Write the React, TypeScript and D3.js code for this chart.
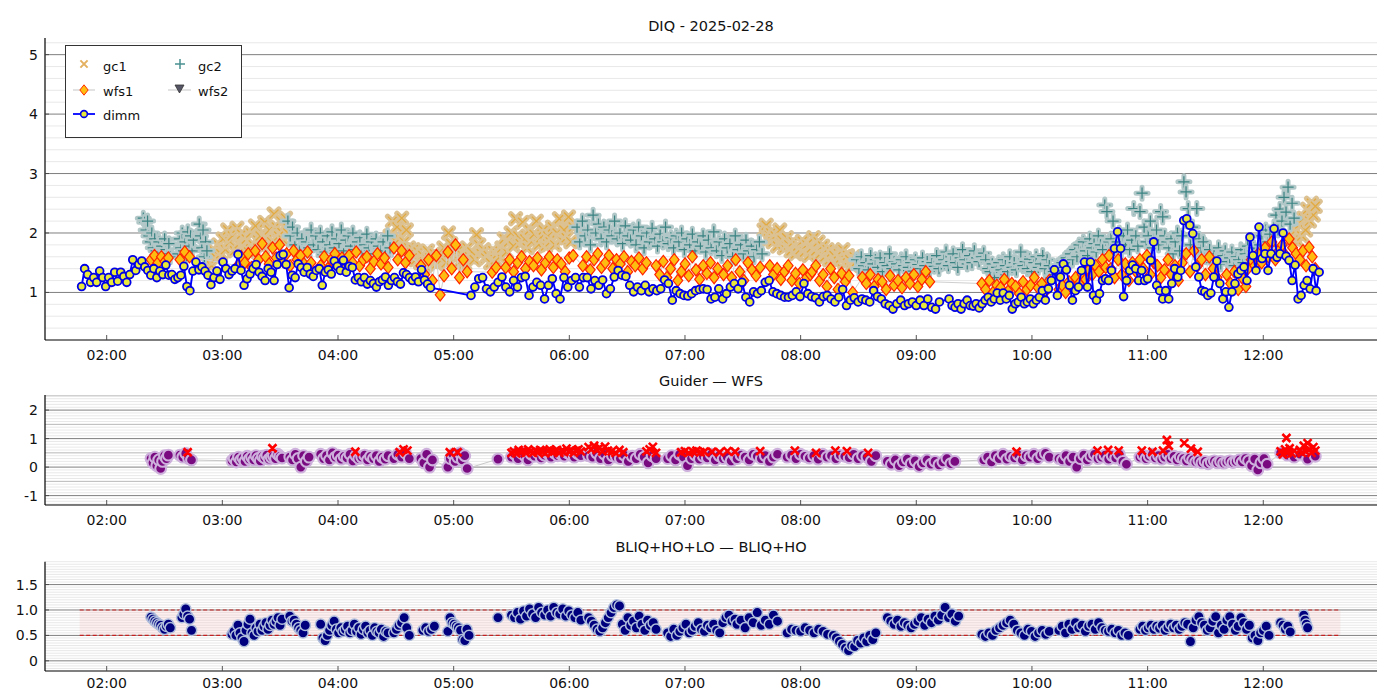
import React from "react";
import * as d3 from "d3";

const FONT = "DejaVu Sans, Liberation Sans, sans-serif";

// ---------- text ----------
const titleTop = "DIQ - 2025-02-28";
const titleMid = "Guider — WFS";
const titleBot = "BLIQ+HO+LO — BLIQ+HO";
const legendLabels = ["gc1", "gc2", "wfs1", "wfs2", "dimm"];

// ---------- axes ----------
const xTickLabels = ["02:00", "03:00", "04:00", "05:00", "06:00", "07:00", "08:00", "09:00", "10:00", "11:00", "12:00"];
const xDomain = ["01:28", "12:59"];
const topTicks = [1, 2, 3, 4, 5];
const topLimits = [0.2, 5.28];
const midTicks = [-1, 0, 1, 2];
const midLimits = [-1.33, 2.53];
const botTicks = [0, 0.5, 1.0, 1.5];
const botTickLabels = ["0", "0.5", "1.0", "1.5"];
const botLimits = [-0.2, 1.95];
const bandRange = [0.5, 1.0];
const bandSpan = ["01:46", "12:40"];

type Seg = [string, string, number[]];

// ---------- top panel: DIQ ----------
const dimmSegs: Seg[] = [
  ["01:47", "04:48", [1.10,1.40,1.30,1.17,1.25,1.17,1.36,1.25,1.10,1.25,1.17,1.34,1.19,1.34,1.27,1.17,1.30,1.55,1.37,1.47,1.53,1.43,1.37,1.29,1.40,1.25,1.36,1.30,1.46,1.29,1.30,1.22,1.25,1.29,1.44,1.10,1.03,1.36,1.51,1.38,1.43,1.36,1.29,1.13,1.25,1.36,1.22,1.51,1.40,1.30,1.36,1.40,1.64,1.37,1.12,1.23,1.31,1.40,1.47,1.34,1.27,1.20,1.40,1.34,1.20,1.47,1.62,1.64,1.47,1.08,1.29,1.25,1.48,1.42,1.34,1.42,1.31,1.27,1.37,1.40,1.12,1.34,1.38,1.31,1.53,1.44,1.37,1.54,1.34,1.44,1.42,1.21,1.25,1.18,1.25,1.14,1.20,1.15,1.09,1.18,1.21,1.26,1.12,1.20,1.25,1.18,1.14,1.33,1.30,1.25,1.20,1.26,1.18,1.38,1.21,1.14,1.08]],
  ["05:09", "09:12", [0.95,1.09,1.23,1.25,1.06,1.01,1.09,1.17,1.26,1.09,1.01,1.20,1.09,1.25,1.27,0.95,1.09,1.17,1.12,0.89,1.12,1.23,0.98,0.89,1.25,1.09,1.20,1.25,1.09,1.25,1.25,1.06,1.20,1.12,1.21,0.98,1.06,1.26,1.37,1.29,1.27,1.12,1.01,1.09,1.03,1.12,1.01,1.06,1.03,1.06,1.21,1.15,0.87,1.03,0.98,0.95,0.94,0.98,1.03,1.05,1.06,1.05,0.89,0.92,1.06,0.89,0.98,1.09,1.15,1.06,1.17,0.92,0.84,1.01,0.98,1.03,1.17,1.20,1.01,0.98,0.95,0.92,0.92,0.95,1.01,0.93,1.15,0.98,0.93,0.91,0.84,0.93,0.95,0.89,0.84,0.92,1.05,0.78,0.87,0.91,0.84,0.89,0.87,0.84,1.03,0.93,0.89,0.81,0.78,0.72,0.81,0.87,0.78,0.81,0.84,0.78,0.87,0.78,0.89,0.75,0.72,0.84]],
  ["09:17", "12:29", [0.89,0.78,0.75,0.81,0.72,0.81,0.87,0.78,0.77,0.81,0.74,0.81,0.87,0.92,0.84,0.89,0.99,0.87,0.99,0.89,0.95,0.72,0.81,0.84,0.92,0.81,0.84,0.89,0.81,0.87,0.92,1.03,0.87,1.06,1.20,1.38,0.95,1.26,1.48,1.38,1.12,0.87,1.03,1.09,1.37,1.51,1.09,1.51,0.95,0.87,0.98,1.20,1.23,1.20,1.37,1.74,2.02,1.74,0.93,1.20,1.37,1.46,1.40,1.20,1.37,1.20,1.23,1.54,1.85,1.12,1.03,0.89,1.03,0.89,1.15,1.40,1.26,1.37,2.21,2.24,2.13,1.99,1.43,1.26,1.03,1.01,0.95,0.99,1.26,1.53,1.15,0.89,1.01,0.75,1.01,1.15,1.31,1.37,1.43,1.20,1.93,1.62,1.37,2.10,1.57,1.65,1.37,1.65,2.07,1.59,1.65,2.00,1.61,1.54,1.20,1.46,0.89,0.95,1.12,1.20,1.06,1.40,1.03,1.34]],
];

const gc1Segs: Seg[] = [
  ["02:52", "03:34", [1.5,1.62,1.45,1.7,1.58,1.8,1.65,1.9,1.72,2.05,1.85,1.95,1.7,2.08,1.82,1.98,1.75,1.9,1.68,2.0,1.8,2.12,1.88,1.95,1.75,2.18,1.9,2.05,1.85,2.32,2.1,1.95,2.2,1.88,2.25,2.0]],
  ["04:27", "05:24", [1.95,2.2,1.8,2.1,1.9,2.25,1.85,2.05,1.75,1.6,1.72,1.55,1.68,1.5,1.62,1.45,1.7,1.58,1.52,1.65,1.48,1.6,1.55,1.75,1.5,2.0,1.82,1.65,1.58,1.7,1.52,1.62,1.48,1.75,1.6,1.68,1.55,1.97,1.8,1.65,1.72,1.58,1.62,1.5,1.7,1.55,1.65,1.6]],
  ["05:25", "06:02", [1.75,1.9,1.68,1.85,2.0,1.78,2.24,1.95,1.82,2.18,1.9,1.75,2.05,1.85,1.98,2.2,1.8,1.92,2.05,1.78,1.95,1.85,2.1,1.8,2.0,2.24,1.88,2.05,1.92,2.27,1.85,2.1]],
  ["07:41", "08:29", [2.05,2.13,1.9,2.0,1.85,1.95,1.78,2.05,1.88,1.75,1.92,1.8,1.7,1.85,1.65,1.78,1.72,1.86,1.68,1.8,1.62,1.75,1.92,1.7,1.85,1.65,1.78,1.6,1.72,1.55,1.68,1.62,1.5,1.65,1.58,1.72,1.48,1.62,1.55,1.45,1.6,1.52]],
  ["12:16", "12:27", [1.9,2.05,1.85,2.15,1.95,2.25,2.05,2.4,2.2,2.5,2.3,2.45]],
];

const gc2Segs: Seg[] = [
  ["02:19", "02:33", [2.25,2.18,2.05,2.2,1.95,1.85,2.0,1.75,1.9,1.7,1.62,1.85,1.68,1.78,1.58,1.9,1.72,1.65,1.82,1.6]],
  ["02:37", "02:45", [1.65,1.9,1.75,2.0,1.7,1.85,1.62,2.02,1.78,1.95,1.7,1.88]],
  ["02:48", "02:52", [2.15,1.95,1.75,2.05,1.6,1.85,1.7]],
  ["03:34", "04:27", [2.2,1.95,2.1,1.8,2.0,1.7,1.9,1.62,1.85,1.75,2.05,1.8,1.95,1.72,2.0,1.85,1.68,1.95,1.8,2.02,1.75,1.9,1.82,2.05,1.7,1.88,1.95,1.78,2.0,1.72,1.85,1.92,1.68,1.8,1.98,1.75,1.85,1.65,1.9,1.78,1.7,1.85,1.62,1.95,1.75]],
  ["06:04", "07:40", [2.1,1.85,2.2,1.95,2.05,1.8,2.3,2.0,2.15,1.9,2.1,1.85,2.05,1.95,2.2,1.9,2.0,1.82,2.12,1.95,1.88,2.05,1.8,2.1,1.95,1.75,2.0,1.85,2.08,1.9,1.78,1.98,1.85,2.1,1.82,1.92,1.75,1.95,1.85,2.0,1.72,1.9,1.8,1.98,1.7,1.85,1.78,1.95,1.68,1.88,1.75,2.02,1.7,1.85,1.62,1.9,1.75,1.82,1.6,1.95,1.72,1.8,1.65,1.88,1.7,1.78,1.6,1.72,1.85,1.65]],
  ["08:29", "09:35", [1.55,1.4,1.6,1.45,1.5,1.38,1.62,1.48,1.55,1.42,1.58,1.35,1.5,1.45,1.65,1.4,1.52,1.48,1.38,1.55,1.45,1.6,1.42,1.5,1.36,1.55,1.47,1.4,1.58,1.45,1.52,1.38,1.5,1.44,1.62,1.4,1.48,1.55,1.68,1.45,1.52,1.65,1.5,1.42,1.58,1.72,1.55,1.48,1.62,1.5,1.7,1.58,1.52,1.6,1.66]],
  ["09:36", "10:09", [1.55,1.4,1.35,1.48,1.25,1.42,1.5,1.38,1.55,1.45,1.35,1.6,1.42,1.5,1.38,1.48,1.68,1.45,1.52,1.4,1.56,1.35,1.5,1.6,1.42,1.48,1.62,1.4,1.55,1.45]],
  ["10:10", "10:40", [1.25,1.35,1.3,1.45,1.38,1.5,1.42,1.58,1.5,1.65,1.55,1.72,1.6,1.8,1.68,1.85,1.7,1.62,1.9,1.75,1.82,1.68,1.95,1.8,1.72,2.47,2.36,1.85]],
  ["10:41", "11:10", [1.9,2.2,1.75,1.85,2.0,1.68,1.95,1.8,2.05,1.72,1.88,2.41,1.95,1.78,2.36,2.67,2.1,1.85,1.95,2.2,1.75,1.9,2.05,1.8,2.36,2.27,1.95,1.85]],
  ["11:11", "11:30", [1.75,1.9,1.65,1.85,2.0,1.7,1.95,2.86,2.69,2.41,1.8,2.1,1.68,2.41,1.9,1.75,1.85,1.62]],
  ["11:31", "11:53", [1.6,1.72,1.5,1.65,1.55,1.75,1.48,1.62,1.7,1.52,1.58,1.68,1.45,1.6,1.55,1.72,1.5,1.65,1.78,1.6]],
  ["11:54", "12:16", [1.6,1.75,1.5,1.68,1.8,1.95,1.72,2.05,1.85,1.98,1.78,2.1,2.3,2.05,2.4,2.2,2.6,2.35,2.77,2.15,2.5,2.25]],
];

const wfs1Segs: Seg[] = [
  ["02:23", "02:32", [1.55,1.62,1.5,1.6,1.52,1.58]],
  ["02:38", "02:43", [1.55,1.68,1.6]],
  ["03:08", "03:46", [1.45,1.6,1.5,1.65,1.42,1.7,1.55,1.82,1.6,1.48,1.75,1.58,1.8,1.52,1.65,1.45,1.7,1.55,1.62,1.48,1.68,1.5]],
  ["03:51", "04:26", [1.45,1.6,1.4,1.55,1.65,1.48,1.58,1.42,1.62,1.5,1.68,1.45,1.55,1.6,1.4,1.52,1.65,1.48,1.58,1.42]],
  ["04:29", "04:37", [1.75,1.55,1.7,1.5,1.62]],
  ["04:43", "05:07", [1.45,1.3,1.55,1.2,1.62,0.96,1.28,1.68,1.4,1.8,1.25,1.55,1.35]],
  ["05:20", "05:22", [1.34,1.42]],
  ["05:27", "06:02", [1.42,1.55,1.35,1.5,1.6,1.4,1.52,1.45,1.58,1.38,1.5,1.6,1.42,1.55,1.48,1.35,1.58,1.62]],
  ["06:07", "06:40", [1.45,1.6,1.38,1.55,1.65,1.42,1.5,1.62,1.4,1.55,1.48,1.6,1.35,1.52,1.45,1.58,1.4,1.5]],
  ["06:45", "07:17", [1.45,1.3,1.52,1.25,1.4,1.55,1.2,1.35,1.48,1.28,1.6,1.38,1.22,1.45,1.32,1.5,1.25,1.4]],
  ["07:20", "07:39", [1.3,1.45,1.25,1.55,1.35,1.2,1.5,1.38,1.28,1.42]],
  ["07:44", "08:05", [1.45,1.3,1.4,1.22,1.35,1.45,1.2,1.32,1.15,1.38,1.25,1.3]],
  ["08:06", "08:27", [1.35,1.45,1.2,1.3,1.1,1.4,1.25,1.05,1.32,1.18,1.28,1.0]],
  ["08:32", "09:07", [1.25,1.15,1.3,1.1,1.22,1.18,1.05,1.28,1.12,1.2,1.08,1.25,1.15,1.3,1.1,1.22,1.35,1.18]],
  ["09:34", "10:09", [1.15,1.05,1.2,1.0,1.12,1.08,1.22,1.02,1.15,1.1,0.98,1.18,1.05,1.12,1.25,1.08,1.15,1.02,1.2]],
  ["10:14", "10:40", [1.05,1.12,1.0,1.18,1.1,1.25,1.15,1.3,1.22,1.38,1.3,1.45,1.35,1.55,1.42,1.62]],
  ["10:41", "10:54", [1.4,1.25,1.55,1.3,1.48,1.2,1.5,1.35]],
  ["10:56", "11:16", [1.55,1.4,1.62,1.3,1.5,1.45,1.25,1.38,1.55,1.3,1.45,1.2]],
  ["11:18", "11:36", [1.5,1.65,1.35,1.7,1.45,1.55,1.3,1.6,1.4,1.25]],
  ["11:41", "11:51", [1.3,1.15,1.35,1.05,1.25,1.1]],
  ["11:52", "12:17", [1.4,1.55,1.45,1.65,1.5,1.75,1.6,1.85,1.55,1.7,1.8,1.62,1.9,1.75,1.65]],
  ["12:19", "12:27", [1.55,1.7,1.45,1.76,1.6,1.4]],
];

// ---------- middle panel: Guider — WFS ----------
const guiderWfsPurple: Seg[] = [
  ["02:23", "02:32", [0.3,0.15,0.35,0.05,0.25,-0.05,0.2,0.4,0.3,0.42]],
  ["02:38", "02:44", [0.42,0.35,0.48,0.3,0.25]],
  ["03:05", "03:31", [0.22,0.3,0.18,0.35,0.25,0.32,0.2,0.38,0.28,0.35,0.25,0.4,0.3,0.22,0.38,0.32,0.42,0.28,0.35,0.4,0.3,0.45,0.38,0.32]],
  ["03:35", "03:45", [0.35,0.25,0.45,0.3,0.0,0.4,0.2,0.35]],
  ["03:51", "04:26", [0.45,0.3,0.4,0.25,0.5,0.35,0.42,0.28,0.38,0.32,0.45,0.22,0.4,0.3,0.35,0.42,0.25,0.38,0.3,0.4,0.2,0.35,0.28,0.4]],
  ["04:29", "04:37", [0.3,0.45,0.35,0.5,0.3]],
  ["04:43", "04:49", [0.3,0.15,0.45,0.0,0.25]],
  ["04:57", "05:07", [0.0,0.3,0.45,0.2,0.35,0.5,0.25,0.4,-0.05]],
  ["05:23", "05:23", [0.28]],
  ["05:30", "06:06", [0.35,0.45,0.3,0.5,0.4,0.25,0.45,0.38,0.5,0.32,0.42,0.48,0.35,0.5,0.4,0.45,0.38,0.5,0.42,0.35,0.48,0.4]],
  ["06:10", "06:45", [0.4,0.35,0.5,0.3,0.45,0.25,0.4,0.35,0.3,0.42,0.2,0.38,0.3,0.45,0.35,0.15,0.4,0.3]],
  ["06:51", "07:26", [0.3,0.4,0.25,0.45,0.35,0.05,0.3,0.42,0.28,0.38,0.32,0.45,0.25,0.4,0.3,0.35,0.22,0.4]],
  ["07:27", "07:48", [0.3,0.42,0.35,0.25,0.45,0.38,0.3,0.4,0.2,0.35,0.45]],
  ["07:53", "08:39", [0.35,0.42,0.3,0.45,0.38,0.32,0.4,0.28,0.45,0.35,0.4,0.3,0.42,0.38,0.33,0.45,0.3,0.4,0.35,0.2,0.4]],
  ["08:45", "09:20", [0.2,0.1,0.25,0.05,0.18,0.28,0.12,0.22,0.02,0.15,0.25,0.1,0.2,0.08,0.18,0.3,0.12,0.2]],
  ["09:35", "10:09", [0.25,0.35,0.18,0.4,0.3,0.45,0.28,0.38,0.32,0.42,0.25,0.4,0.35,0.45,0.3,0.42,0.48,0.35]],
  ["10:14", "10:49", [0.3,0.25,0.4,0.2,0.35,0.0,0.3,0.42,0.25,0.38,0.45,0.3,0.35,0.42,0.28,0.4,0.32,0.45,0.2,0.1]],
  ["10:56", "12:02", [0.35,0.42,0.3,0.38,0.45,0.32,0.4,0.28,0.35,0.45,0.3,0.38,0.25,0.35,0.3,0.22,0.32,0.25,0.18,0.22,0.15,0.2,0.12,0.18,0.22,0.15,0.2,0.14,0.18,0.22,0.16,0.2,0.25,0.18,0.3,0.22,0.05,0.28,-0.1,0.15,0.3,0.1]],
  ["12:09", "12:16", [0.5,0.42,0.35]],
  ["12:19", "12:27", [0.45,0.28,0.38]],
];

const guiderWfsRed: Seg[] = [
  ["02:42", "02:42", [0.52]],
  ["03:26", "03:26", [0.66]],
  ["04:09", "04:09", [0.54]],
  ["04:32", "04:36", [0.52,0.62,0.58]],
  ["04:58", "05:02", [0.52,0.52]],
  ["05:30", "06:06", [0.5,0.55,0.48,0.6,0.52,0.58,0.5,0.62,0.55,0.5,0.58,0.52,0.6,0.55,0.48,0.57,0.62,0.52,0.55,0.6,0.5,0.58,0.53,0.65,0.55,0.6,0.5,0.58,0.62,0.55]],
  ["06:10", "06:20", [0.7,0.62,0.75,0.6,0.68,0.55,0.72,0.58]],
  ["06:22", "06:28", [0.55,0.5,0.6,0.52]],
  ["06:40", "06:45", [0.55,0.62,0.71,0.5]],
  ["06:58", "07:10", [0.52,0.56,0.5,0.55,0.58,0.52,0.54]],
  ["07:14", "07:26", [0.54,0.52,0.56,0.54]],
  ["07:39", "07:39", [0.56]],
  ["07:57", "07:57", [0.58]],
  ["08:08", "08:08", [0.5]],
  ["08:18", "08:24", [0.58,0.56]],
  ["08:35", "08:35", [0.5]],
  ["09:52", "09:52", [0.54]],
  ["10:34", "10:45", [0.58,0.6,0.58]],
  ["10:57", "11:08", [0.58,0.54,0.58]],
  ["11:10", "11:11", [0.95,0.75]],
  ["11:19", "11:26", [0.84,0.65,0.54]],
  ["12:09", "12:16", [0.55,0.45,0.62,0.5,0.66,0.48,0.58]],
  ["12:12", "12:12", [1.02]],
  ["12:19", "12:27", [0.6,0.5,0.75,0.55,0.84,0.62,0.5,0.7,0.58]],
];

// ---------- bottom panel: BLIQ ----------
const bliqSegs: Seg[] = [
  ["02:23", "02:33", [0.86,0.82,0.78,0.75,0.72,0.7,0.65,0.62,0.68,0.72,0.65]],
  ["02:39", "02:44", [0.85,0.92,1.02,0.88,0.82,0.6]],
  ["03:05", "03:31", [0.52,0.58,0.5,0.7,0.55,0.45,0.38,0.6,0.72,0.82,0.55,0.5,0.65,0.58,0.72,0.6,0.68,0.75,0.62,0.7,0.8,0.72,0.78,0.85,0.7,0.82]],
  ["03:35", "03:43", [0.88,0.78,0.8,0.72,0.65,0.6,0.55,0.7]],
  ["03:51", "04:26", [0.72,0.45,0.4,0.5,0.6,0.7,0.78,0.62,0.55,0.65,0.58,0.62,0.68,0.55,0.6,0.72,0.58,0.65,0.52,0.62,0.68,0.55,0.6,0.5,0.65,0.58,0.55,0.62,0.48,0.58,0.55]],
  ["04:29", "04:37", [0.55,0.62,0.7,0.75,0.85,0.65,0.5]],
  ["04:44", "04:50", [0.6,0.65,0.58,0.62,0.68]],
  ["04:57", "05:08", [0.58,0.85,0.75,0.72,0.68,0.65,0.6,0.42,0.4,0.62,0.5]],
  ["05:23", "05:23", [0.85]],
  ["05:30", "06:06", [0.9,0.85,0.95,0.82,0.98,0.88,1.02,0.92,0.85,1.05,0.95,0.9,1.0,0.88,1.05,0.95,0.92,1.02,0.88,0.98,0.9,0.85,0.95,0.8]],
  ["06:10", "06:45", [0.85,0.78,0.7,0.62,0.58,0.65,0.75,0.85,0.95,1.05,1.1,1.08,0.72,0.6,0.85,0.7,0.78,0.65,0.88,0.72,0.6,0.8,0.7,0.75,0.62]],
  ["06:51", "07:26", [0.55,0.48,0.62,0.5,0.58,0.65,0.72,0.55,0.6,0.68,0.75,0.62,0.58,0.7,0.65,0.72,0.6,0.55,0.75,0.85,0.9,0.78,0.82]],
  ["07:27", "07:48", [0.72,0.8,0.65,0.85,0.75,0.95,0.7,0.8,0.72,0.9,0.78]],
  ["07:53", "08:14", [0.55,0.62,0.6,0.58,0.65,0.6,0.55,0.62,0.58,0.52]],
  ["08:17", "08:39", [0.5,0.45,0.38,0.32,0.25,0.2,0.3,0.28,0.4,0.35,0.45,0.38,0.5,0.42,0.55]],
  ["08:45", "09:22", [0.85,0.78,0.72,0.8,0.68,0.75,0.7,0.65,0.72,0.78,0.85,0.7,0.82,0.75,0.88,0.8,0.9,1.05,0.85,0.92,0.78,0.88]],
  ["09:34", "10:09", [0.52,0.48,0.55,0.5,0.6,0.65,0.7,0.75,0.8,0.72,0.6,0.55,0.5,0.62,0.58,0.48,0.55,0.6,0.52,0.58]],
  ["10:14", "10:50", [0.6,0.68,0.55,0.72,0.62,0.75,0.65,0.7,0.58,0.68,0.72,0.62,0.75,0.65,0.6,0.58,0.62,0.55,0.6,0.5,0.55,0.5]],
  ["10:56", "12:03", [0.62,0.68,0.6,0.65,0.7,0.62,0.68,0.64,0.7,0.6,0.66,0.72,0.65,0.7,0.62,0.68,0.75,0.72,0.38,0.65,0.8,0.87,0.75,0.7,0.6,0.65,0.78,0.87,0.55,0.7,0.62,0.8,0.87,0.72,0.6,0.68,0.85,0.75,0.62,0.7,0.45,0.5,0.4,0.55,0.6,0.68,0.5]],
  ["12:09", "12:14", [0.75,0.7,0.62,0.68,0.57]],
  ["12:21", "12:23", [0.9,0.8,0.72,0.65]],
];

// ---------- helpers ----------
const tm = (s: string) => {
  const [h, m] = s.split(":").map(Number);
  return h * 60 + m;
};
type Pt = { t: number; v: number };
const expand = (segs: Seg[]): Pt[] =>
  segs
    .flatMap(([a, b, vals]) => {
      const t0 = tm(a), t1 = tm(b), n = vals.length;
      return vals.map((v, i) => ({ t: n > 1 ? t0 + ((t1 - t0) * i) / (n - 1) : t0, v }));
    })
    .sort((p, q) => p.t - q.t);

const L = 45, R = 1377;
const TOP = { y0: 38, y1: 340, title: 30.5, lab: 20 };
const MID = { y0: 395, y1: 505, title: 386, lab: 20 };
const BOT = { y0: 561.7, y1: 671, title: 552, lab: 17 };

const xPath = (cx: number, cy: number, s: number) =>
  `M${cx - s},${cy - s}L${cx + s},${cy + s}M${cx - s},${cy + s}L${cx + s},${cy - s}`;
const plusPath = (cx: number, cy: number, s: number) =>
  `M${cx - s},${cy}L${cx + s},${cy}M${cx},${cy - s}L${cx},${cy + s}`;
const diamondPath = (cx: number, cy: number, s: number) =>
  `M${cx},${cy - s}L${cx + s * 0.8},${cy}L${cx},${cy + s}L${cx - s * 0.8},${cy}Z`;

const isMult = (v: number, m: number) => Math.abs(v / m - Math.round(v / m)) < 1e-6;

function Grid({ y, majors, halves, minors }: { y: d3.ScaleLinear<number, number>; majors: number[]; halves: number[]; minors: number[] }) {
  return (
    <g>
      {minors.map((v, i) => (
        <line key={"mi" + i} x1={L} x2={R} y1={y(v)} y2={y(v)} stroke="#e2e2e2" strokeWidth={0.8} />
      ))}
      {halves.map((v, i) => (
        <line key={"ha" + i} x1={L} x2={R} y1={y(v)} y2={y(v)} stroke="#b0b0b0" strokeWidth={0.9} />
      ))}
      {majors.map((v, i) => (
        <line key={"ma" + i} x1={L} x2={R} y1={y(v)} y2={y(v)} stroke="#707070" strokeWidth={0.9} />
      ))}
    </g>
  );
}

function Axes({ x, y, panel, yTicks, yLabels, title }: { x: d3.ScaleLinear<number, number>; y: d3.ScaleLinear<number, number>; panel: { y0: number; y1: number; title: number; lab: number }; yTicks: number[]; yLabels: string[]; title: string }) {
  const { y0, y1 } = panel;
  return (
    <g>
      <line x1={L} x2={L} y1={y0} y2={y1} stroke="#000" strokeWidth={1.2} />
      <line x1={L} x2={R} y1={y1} y2={y1} stroke="#000" strokeWidth={1.2} />
      {xTickLabels.map((lab) => {
        const px = x(tm(lab));
        return (
          <g key={lab}>
            <line x1={px} x2={px} y1={y1} y2={y1 - 5} stroke="#444" strokeWidth={0.9} />
            <text x={px} y={y1 + panel.lab} fontSize={14} textAnchor="middle" fill="#111">{lab}</text>
          </g>
        );
      })}
      {yTicks.map((v, i) => (
        <g key={"yt" + i}>
          <line x1={L} x2={L + 4} y1={y(v)} y2={y(v)} stroke="#444" strokeWidth={0.9} />
          <text x={38} y={y(v) + 5} fontSize={14} textAnchor="end" fill="#111">{yLabels[i]}</text>
        </g>
      ))}
      <text x={(L + R) / 2} y={panel.title} fontSize={14.5} textAnchor="middle" fill="#111">{title}</text>
    </g>
  );
}

export default function App() {
  const x = d3.scaleLinear().domain(xDomain.map(tm)).range([L, R]);
  const yT = d3.scaleLinear().domain(topLimits).range([TOP.y1, TOP.y0]);
  const yM = d3.scaleLinear().domain(midLimits).range([MID.y1, MID.y0]);
  const yB = d3.scaleLinear().domain(botLimits).range([BOT.y1, BOT.y0]);

  const dimm = expand(dimmSegs);
  const gc1 = expand(gc1Segs);
  const gc2 = expand(gc2Segs);
  const wfs1 = expand(wfs1Segs);
  const purple = expand(guiderWfsPurple);
  const red = expand(guiderWfsRed);
  const bliq = expand(bliqSegs);

  const line = d3.line<Pt>().x((d) => x(d.t)).y((d) => yT(d.v));
  const lineM = d3.line<Pt>().x((d) => x(d.t)).y((d) => yM(d.v));

  const topMinor = d3.range(0.4, 5.25, 0.2).filter((v) => !isMult(v, 1));
  const midMinor = d3.range(-1.3, 2.55, 0.1).filter((v) => !isMult(v, 0.5));
  const midHalf = [-0.5, 0.5, 1.5, 2.5];
  const botMinor = d3.range(-0.15, 1.951, 0.05).filter((v) => !isMult(v, 0.5));

  const redPath = red.map((p) => xPath(x(p.t), yM(p.v), 4)).join("");

  return (
    <svg width={1400} height={700} style={{ position: "absolute", left: 0, top: 0, background: "#fff" }} fontFamily={FONT}>
      <rect x={0} y={0} width={1400} height={700} fill="#fff" />

      {/* ---------------- TOP ---------------- */}
      <Grid y={yT} majors={topTicks} halves={[]} minors={topMinor} />
      <g>
        {gc1.map((p, i) => {
          const cx = x(p.t), cy = yT(p.v);
          return (
            <g key={"g1" + i}>
              <path d={xPath(cx, cy, 4.8)} stroke="#dcc293" strokeWidth={5.4} fill="none" strokeLinecap="round" />
              <path d={xPath(cx, cy, 4.5)} stroke="#e2aa40" strokeWidth={1.3} fill="none" />
            </g>
          );
        })}
        {gc2.map((p, i) => {
          const cx = x(p.t), cy = yT(p.v);
          return (
            <g key={"g2" + i}>
              <path d={plusPath(cx, cy, 6)} stroke="#b2c8c8" strokeWidth={5} fill="none" strokeLinecap="round" />
              <path d={plusPath(cx, cy, 5.6)} stroke="#3a8282" strokeWidth={1.2} fill="none" />
            </g>
          );
        })}
      </g>
      <path d={line(wfs1) || ""} fill="none" stroke="#cfcfcf" strokeWidth={1} />
      <g>
        {wfs1.map((p, i) => (
          <path key={"w" + i} d={diamondPath(x(p.t), yT(p.v), 6.1)} fill="#ffbc10" stroke="#ff2400" strokeWidth={1.2} />
        ))}
      </g>
      <path d={line(dimm) || ""} fill="none" stroke="#0000ff" strokeWidth={1.9} />
      <g>
        {dimm.map((p, i) => (
          <circle key={"d" + i} cx={x(p.t)} cy={yT(p.v)} r={3.9} fill="#e8e83a" stroke="#0000e6" strokeWidth={1.8} />
        ))}
      </g>
      <Axes x={x} y={yT} panel={TOP} yTicks={topTicks} yLabels={topTicks.map(String)} title={titleTop} />

      {/* legend */}
      <g fontSize={13}>
        <rect x={65.5} y={45.5} width={176} height={92} fill="#fff" stroke="#333" strokeWidth={1} />
        <path d={xPath(84, 64, 3.6)} stroke="#e3b060" strokeWidth={2} fill="none" />
        <text x={103} y={70.5} fill="#111">{legendLabels[0]}</text>
        <path d={plusPath(180, 64, 5)} stroke="#4a9090" strokeWidth={1.5} fill="none" />
        <text x={198} y={70.5} fill="#111">{legendLabels[1]}</text>
        <line x1={73} x2={95} y1={90} y2={90} stroke="#d8d8d8" strokeWidth={1.5} />
        <path d={diamondPath(84, 90, 5.2)} fill="#ffbe10" stroke="#ff2a00" strokeWidth={1} />
        <text x={103} y={95.5} fill="#111">{legendLabels[2]}</text>
        <line x1={168} x2={191} y1={90} y2={90} stroke="#d8d8d8" strokeWidth={1.5} />
        <path d="M175,85L184,85L179.5,93Z" fill="#555566" stroke="#333" strokeWidth={0.8} />
        <text x={198} y={95.5} fill="#111">{legendLabels[3]}</text>
        <line x1={73} x2={95} y1={114} y2={114} stroke="#0000ff" strokeWidth={1.8} />
        <circle cx={84} cy={114} r={3.4} fill="#e8e83a" stroke="#0000e6" strokeWidth={1.6} />
        <text x={103} y={120} fill="#111">{legendLabels[4]}</text>
      </g>

      {/* ---------------- MIDDLE ---------------- */}
      <Grid y={yM} majors={midTicks} halves={midHalf} minors={midMinor} />
      <path d={lineM(purple) || ""} fill="none" stroke="#c8c8c8" strokeWidth={1} />
      <g>
        {purple.map((p, i) => (
          <circle key={"p" + i} cx={x(p.t)} cy={yM(p.v)} r={5.4} fill="#7a0a80" stroke="#cdb0dc" strokeWidth={2.1} />
        ))}
      </g>
      <path d={redPath} stroke="#ff0000" strokeWidth={2.6} fill="none" />
      <Axes x={x} y={yM} panel={MID} yTicks={midTicks} yLabels={midTicks.map(String)} title={titleMid} />

      {/* ---------------- BOTTOM ---------------- */}
      <Grid y={yB} majors={botTicks} halves={[]} minors={botMinor} />
      <rect
        x={x(tm(bandSpan[0]))}
        width={x(tm(bandSpan[1])) - x(tm(bandSpan[0]))}
        y={yB(bandRange[1])}
        height={yB(bandRange[0]) - yB(bandRange[1])}
        fill="#f4b8b8"
        opacity={0.22}
      />
      {bandRange.map((v) => (
        <line key={"bl" + v} x1={x(tm(bandSpan[0]))} x2={x(tm(bandSpan[1]))} y1={yB(v)} y2={yB(v)} stroke="#c42222" strokeWidth={1.2} strokeDasharray="4 2.5" />
      ))}
      <g>
        {bliq.map((p, i) => (
          <circle key={"b" + i} cx={x(p.t)} cy={yB(p.v)} r={5.2} fill="#00007e" stroke="#b0bedc" strokeWidth={1.5} />
        ))}
      </g>
      <Axes x={x} y={yB} panel={BOT} yTicks={botTicks} yLabels={botTickLabels} title={titleBot} />
    </svg>
  );
}
